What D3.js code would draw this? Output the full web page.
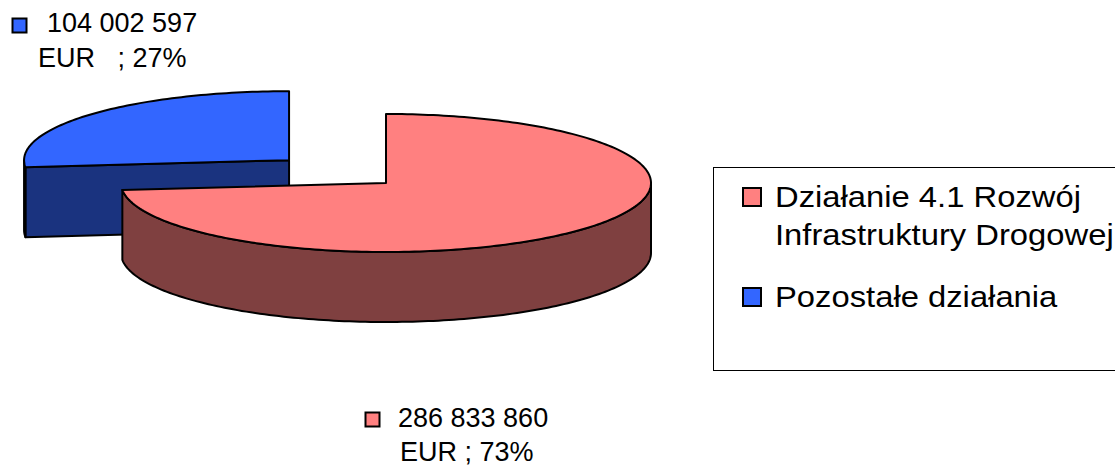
<!DOCTYPE html>
<html>
<head>
<meta charset="utf-8">
<script src="https://cdn.jsdelivr.net/npm/d3@7"></script>
<style>
  body { margin: 0; background: #fff; }
  svg { display: block; }
  text { font-family: "Liberation Sans", Arial, sans-serif; fill: #000; white-space: pre; }
</style>
</head>
<body>
<div id="chart"></div>
<script>
const categories = ['Działanie 4.1 Rozwój Infrastruktury Drogowej', 'Pozostałe działania'];
const legendLines = [['Działanie 4.1 Rozwój', 'Infrastruktury Drogowej'], ['Pozostałe działania']];
const values = [286833860, 104002597];
const currency = 'EUR';
const labelSeparators = [' ; ', '   ; '];
const topColors = ['#FF8080', '#3366FF'];
const sideColors = ['#7F4040', '#1A337F'];
const explode = [0, 0.493];

const width = 1115;
const height = 466;

const svg = d3.select('#chart').append('svg')
  .attr('width', width)
  .attr('height', height);

// pie geometry (ellipse seen from above, with a thickness)
const cx = 386, cy = 183;
const rx = 265, ry = 69;
const depth = 70;

const total = d3.sum(values);
const pct = d3.format('.0%');
const num = d3.formatLocale({decimal: ',', thousands: ' ', grouping: [3], currency: ['', '']}).format(',d');

const arcs = d3.pie().sort(null).value(d => d)(values);

// x/y scales map unit circle coords onto the flattened ellipse
const xs = d3.scaleLinear().domain([-1, 1]).range([-rx, rx]);
const ys = d3.scaleLinear().domain([-1, 1]).range([ry, -ry]);

const line = d3.line();

const slices = arcs.map((a, i) => {
  const mid = (a.startAngle + a.endAngle) / 2;
  const c = {
    x: cx + xs(Math.sin(mid)) * explode[i],
    y: cy + ys(Math.cos(mid)) * explode[i],
  };
  const pt = (ang, dy = 0) => [c.x + xs(Math.sin(ang)), c.y + ys(Math.cos(ang)) + dy];
  const rim = (a0, a1, dy = 0) => {
    const n = Math.max(2, Math.ceil((a1 - a0) / 0.02));
    return d3.range(n + 1).map(k => pt(a0 + (a1 - a0) * k / n, dy));
  };
  return {a, i, c, pt, rim};
});

const g = svg.append('g')
  .attr('stroke', '#000')
  .attr('stroke-width', 2)
  .attr('stroke-linejoin', 'round');

// back slice first (the exploded one), then the front one
[1, 0].forEach(idx => {
  const s = slices[idx];
  const {a, c, pt, rim} = s;
  const sg = g.append('g');

  // radial face at start angle, visible when it lies on the left half
  if (a.startAngle > Math.PI && a.startAngle < 2 * Math.PI) {
    const p = pt(a.startAngle);
    sg.append('path')
      .attr('fill', sideColors[idx])
      .attr('d', line([[c.x, c.y], p, [p[0], p[1] + depth], [c.x, c.y + depth]]) + 'Z');
  }
  // radial face at end angle, visible when it lies on the right half
  if (a.endAngle > 0 && a.endAngle < Math.PI) {
    const p = pt(a.endAngle);
    sg.append('path')
      .attr('fill', sideColors[idx])
      .attr('d', line([[c.x, c.y], p, [p[0], p[1] + depth], [c.x, c.y + depth]]) + 'Z');
  }

  // outer curved wall, only the front half (PI/2 .. 3PI/2)
  const f0 = Math.max(a.startAngle, Math.PI / 2);
  const f1 = Math.min(a.endAngle, 3 * Math.PI / 2);
  if (f1 > f0) {
    const top = rim(f0, f1);
    const bottom = rim(f0, f1, depth).reverse();
    sg.append('path')
      .attr('fill', sideColors[idx])
      .attr('d', line(top.concat(bottom)) + 'Z');
  }

  // top face
  sg.append('path')
    .attr('fill', topColors[idx])
    .attr('d', line([[c.x, c.y]].concat(rim(a.startAngle, a.endAngle))) + 'Z');
});

// data labels
const labelPos = [
  {sx: 365, sy: 412, x1: 398, y1: 427, x2: 400, y2: 461},
  {sx: 12, sy: 18, x1: 47, y1: 32, x2: 38, y2: 67},
];

const labels = svg.append('g').selectAll('g')
  .data(values)
  .join('g');

labels.append('rect')
  .attr('x', (d, i) => labelPos[i].sx + 0.5)
  .attr('y', (d, i) => labelPos[i].sy + 0.5)
  .attr('width', 14)
  .attr('height', 14)
  .attr('fill', (d, i) => topColors[i])
  .attr('stroke', '#000')
  .attr('stroke-width', 2);

labels.append('text')
  .attr('x', (d, i) => labelPos[i].x1)
  .attr('y', (d, i) => labelPos[i].y1)
  .attr('font-size', 27)
  .text(d => num(d));

labels.append('text')
  .attr('x', (d, i) => labelPos[i].x2)
  .attr('y', (d, i) => labelPos[i].y2)
  .attr('font-size', 27)
  .text((d, i) => currency + labelSeparators[i] + pct(d / total));

// legend
const legend = svg.append('g');

legend.append('rect')
  .attr('x', 713.5)
  .attr('y', 167.5)
  .attr('width', 430)
  .attr('height', 203)
  .attr('fill', 'none')
  .attr('stroke', '#000')
  .attr('stroke-width', 1);

const legendY = [188, 288];

categories.forEach((cat, i) => {
  legend.append('rect')
    .attr('x', 743)
    .attr('y', legendY[i])
    .attr('width', 18)
    .attr('height', 18)
    .attr('fill', topColors[i])
    .attr('stroke', '#000')
    .attr('stroke-width', 2);

  legendLines[i].forEach((ln, k) => {
    legend.append('g')
      .attr('transform', `translate(775,${legendY[i] + 19 + k * 38}) scale(1.13,1)`)
      .append('text')
      .attr('font-size', 29)
      .text(ln);
  });
});
</script>
</body>
</html>
